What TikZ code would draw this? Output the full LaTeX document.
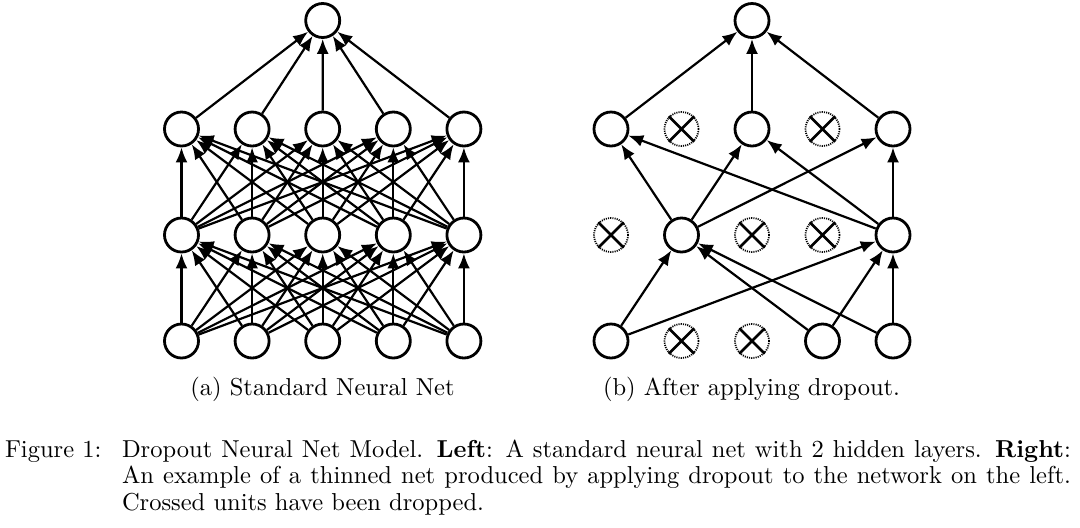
\documentclass[tikz,border=0pt]{standalone}
\usetikzlibrary{arrows.meta}
\newcommand\ctext[1]{\scalebox{1.225}{\fontsize{10}{12}\selectfont #1}}
\newcommand\jtext[2]{\scalebox{1.225}{\fontsize{10}{12}\selectfont\makebox[#1][s]{#2}}}
\begin{document}
\begin{tikzpicture}[x=0.5pt,y=-0.5pt,
  unit/.style={circle,draw,line width=1.4pt,minimum size=17pt,inner sep=0pt},
  drop/.style={circle,draw,dash pattern=on 0.55pt off 0.55pt,line width=0.9pt,minimum size=17pt,inner sep=0pt},
  xline/.style={line width=1.3pt},
  conn/.style={-{Latex[length=7.5pt,width=6pt]},line width=1.1pt},
  txt/.style={inner sep=0pt,outer sep=0pt}]
\useasboundingbox (0,0) rectangle (1080,527);
\fill[white] (0,0) rectangle (1080,527);
% ---------- left network ----------
\node[unit] (L0) at (322.7,20.5) {};
\foreach \k [evaluate=\k as \xx using {181.5+70.6*(\k-1)}] in {1,...,5}{
  \node[unit] (L1-\k) at (\xx,129) {};
  \node[unit] (L2-\k) at (\xx,235) {};
  \node[unit] (L3-\k) at (\xx,341) {};
}
\foreach \i in {1,...,5}{
  \foreach \j in {1,...,5}{
    \draw[conn] (L3-\i) -- (L2-\j);
    \draw[conn] (L2-\i) -- (L1-\j);
  }
  \draw[conn] (L1-\i) -- (L0);
}
% ---------- right network ----------
\node[unit] (R0) at (752,20.5) {};
\node[unit] (R1-1) at (611,129) {};
\node[drop] (R1-2) at (681.5,129) {};
\node[unit] (R1-3) at (752,129) {};
\node[drop] (R1-4) at (822.5,129) {};
\node[unit] (R1-5) at (893,129) {};
\node[drop] (R2-1) at (611,235) {};
\node[unit] (R2-2) at (681.5,235) {};
\node[drop] (R2-3) at (752,235) {};
\node[drop] (R2-4) at (822.5,235) {};
\node[unit] (R2-5) at (893,235) {};
\node[unit] (R3-1) at (611,341) {};
\node[drop] (R3-2) at (681.5,341) {};
\node[drop] (R3-3) at (752,341) {};
\node[unit] (R3-4) at (822.5,341) {};
\node[unit] (R3-5) at (893,341) {};
\foreach \d in {R1-2,R1-4,R2-1,R2-3,R2-4,R3-2,R3-3}{
  \draw[xline] (\d.45) -- (\d.225) (\d.135) -- (\d.315);
}
\foreach \s in {1,3,5}{ \draw[conn] (R1-\s) -- (R0); }
\foreach \s in {2,5}{
  \foreach \t in {1,3,5}{ \draw[conn] (R2-\s) -- (R1-\t); }
}
\foreach \s in {1,4,5}{
  \foreach \t in {2,5}{ \draw[conn] (R3-\s) -- (R2-\t); }
}
% ---------- captions ----------
\node[txt,anchor=base] (capa) at (322.5,395) {\ctext{(a) Standard Neural Net}};
\node[txt,anchor=base] (capb) at (751.5,395) {\ctext{(b) After applying dropout.}};
\node[txt,anchor=base west] (fig) at (5,457) {\ctext{Figure 1:}};
\node[txt,anchor=base west] (c1) at (122,457) {\jtext{387.3pt}{Dropout Neural Net Model. \textbf{Left}: A standard neural net with 2 hidden layers. \textbf{Right}:}};
\node[txt,anchor=base west] (c2) at (122,483.5) {\jtext{387.3pt}{An example of a thinned net produced by applying dropout to the network on the left.}};
\node[txt,anchor=base west] (c3) at (122,510) {\ctext{Crossed units have been dropped.}};
\end{tikzpicture}
\end{document}
